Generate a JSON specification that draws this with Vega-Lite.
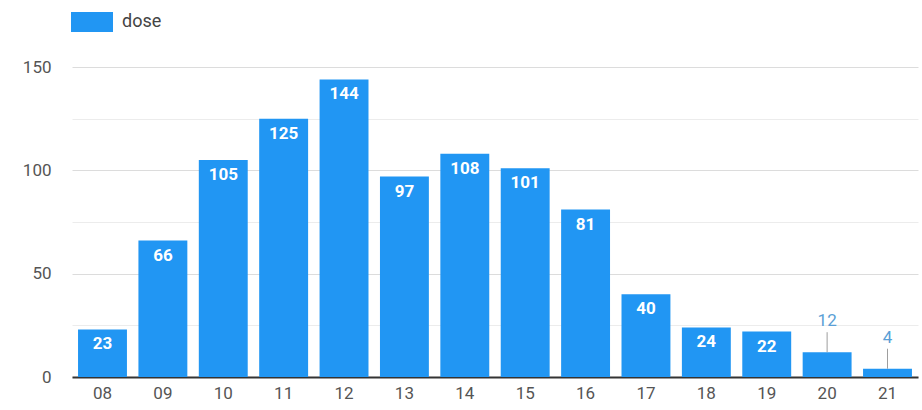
{
  "$schema": "https://vega.github.io/schema/vega-lite/v6.json",
  "width": 846,
  "height": 310,
  "autosize": {"type": "none"},
  "padding": {"left": 72, "top": 67, "right": 4, "bottom": 33},
  "background": "white",
  "config": {
    "view": {"stroke": null},
    "font": "Roboto",
    "axis": {"labelFont": "Roboto", "labelFontSize": 17, "labelColor": "#555"}
  },
  "data": {
    "values": [
      {"hour": "08", "dose": 23},
      {"hour": "09", "dose": 66},
      {"hour": "10", "dose": 105},
      {"hour": "11", "dose": 125},
      {"hour": "12", "dose": 144},
      {"hour": "13", "dose": 97},
      {"hour": "14", "dose": 108},
      {"hour": "15", "dose": 101},
      {"hour": "16", "dose": 81},
      {"hour": "17", "dose": 40},
      {"hour": "18", "dose": 24},
      {"hour": "19", "dose": 22},
      {"hour": "20", "dose": 12},
      {"hour": "21", "dose": 4}
    ]
  },
  "encoding": {
    "x": {
      "field": "hour", "type": "ordinal", "sort": null,
      "scale": {"paddingInner": 0.19, "paddingOuter": 0.1},
      "axis": {"title": null, "labelAngle": 0, "ticks": false, "domainColor": "#333", "domainWidth": 2, "labelPadding": 8, "grid": false}
    },
    "y": {
      "field": "dose", "type": "quantitative",
      "scale": {"domain": [0, 150], "nice": false},
      "axis": {
        "title": null, "values": [0, 25, 50, 75, 100, 125, 150],
        "labelExpr": "datum.value % 50 === 0 ? datum.label : ''",
        "domain": false, "ticks": false, "labelPadding": 21,
        "gridColor": {"condition": {"test": "datum.value % 50 === 0", "value": "#dcdcdc"}, "value": "#ececec"}
      }
    }
  },
  "layer": [
    {
      "mark": {"type": "bar", "color": "#2196F3"},
      "encoding": {
        "color": {
          "datum": "dose", "type": "nominal",
          "scale": {"range": ["#2196F3"]},
          "legend": {
            "title": null, "orient": "none", "legendX": -1, "legendY": -66,
            "symbolType": "M-1,-0.48H1V0.48H-1Z", "symbolSize": 1764,
            "symbolStrokeWidth": 0, "symbolFillColor": "#2196F3", "symbolOpacity": 1,
            "labelFontSize": 18, "labelColor": "#444", "labelFont": "Roboto", "labelOffset": 9
          }
        }
      }
    },
    {
      "transform": [{"filter": "datum.dose >= 20"}],
      "mark": {"type": "text", "color": "white", "fontWeight": "bold", "fontSize": 17, "baseline": "middle", "dy": 15},
      "encoding": {"text": {"field": "dose", "type": "quantitative"}}
    },
    {
      "transform": [{"filter": "datum.dose < 20"}],
      "mark": {"type": "rule", "color": "#9e9e9e", "strokeWidth": 1, "y2Offset": -20},
      "encoding": {"y2": {"field": "dose"}}
    },
    {
      "transform": [{"filter": "datum.dose < 20"}],
      "mark": {"type": "text", "color": "#5a9fd6", "fontSize": 17, "baseline": "middle", "dy": -31},
      "encoding": {"text": {"field": "dose", "type": "quantitative"}}
    }
  ]
}
